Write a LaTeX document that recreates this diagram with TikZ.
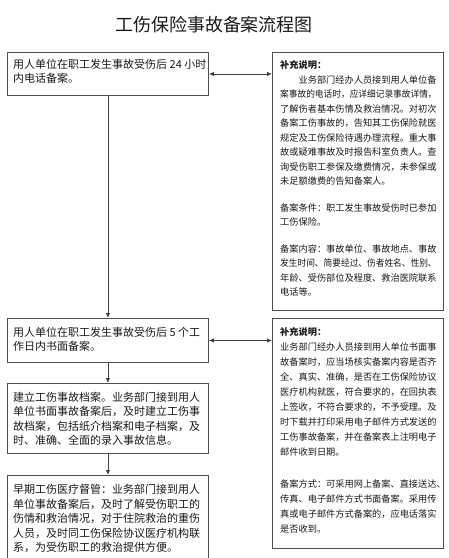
\documentclass[tikz,border=0pt]{standalone}
\usepackage{fontspec}
\usepackage{graphicx}
\setmainfont{Noto Sans CJK SC}
\usetikzlibrary{arrows.meta}
\definecolor{boxc}{HTML}{505050}
\definecolor{linec}{HTML}{404040}
\definecolor{textc}{HTML}{1A1A1A}
\newcommand{\sqz}[1]{\scalebox{0.945}[1]{#1}}
\tikzset{
  box/.style={draw=boxc, line width=0.9pt, fill=white, anchor=north west, inner sep=0pt},
  ltxt/.style={anchor=north west, inner sep=0pt, align=left, text=textc, font=\fontsize{11}{14.5}\selectfont},
  rtxt/.style={anchor=north west, inner sep=0pt, align=left, text=textc, font=\fontsize{9.2}{14.5}\selectfont},
  rtxtb/.style={anchor=north west, inner sep=0pt, align=left, text=textc, font=\fontsize{9.2}{15}\selectfont},
  conn/.style={draw=linec, line width=0.8pt, -{Latex[length=5pt,width=4.5pt]}},
  dconn/.style={draw=linec, line width=0.8pt, {Latex[length=5pt,width=4.5pt]}-{Latex[length=5pt,width=4.5pt]}}
}
\begin{document}
\begin{tikzpicture}[x=1pt,y=-1pt]
\useasboundingbox (0,0) rectangle (449,558);
\clip (0,0) rectangle (449,558);
\fill[white] (0,0) rectangle (449,558);

\node[anchor=center, inner sep=0pt, text=textc, font=\fontsize{18}{20}\selectfont] (title) at (214,25) {工伤保险事故备案流程图};

% left boxes
\node[box, minimum width=201pt, minimum height=43pt] (b1) at (7,52) {};
\node[box, minimum width=201pt, minimum height=44pt] (b2) at (7,318) {};
\node[box, minimum width=201pt, minimum height=70pt] (b3) at (7,383) {};
\node[box, minimum width=201pt, minimum height=100pt] (b4) at (7,475) {};

% right boxes
\node[box, minimum width=171pt, minimum height=258pt] (r1) at (272,52) {};
\node[box, minimum width=171pt, minimum height=230pt] (r2) at (272,318) {};

% left texts
\node[ltxt] (t1) at (13,58.5) {用人单位在职工发生事故受伤后 24 小时\\内电话备案。};
\node[ltxt] (t2) at (13,326.5) {用人单位在职工发生事故受伤后 5 个工\\作日内书面备案。};
\node[ltxt] (t3) at (13,391.5) {建立工伤事故档案。业务部门接到用人\\单位书面事故备案后，及时建立工伤事\\故档案，包括纸介档案和电子档案，及\\时、准确、全面的录入事故信息。};
\node[ltxt] (t4) at (13,484.5) {早期工伤医疗督管：业务部门接到用人\\单位事故备案后，及时了解受伤职工的\\伤情和救治情况，对于住院救治的重伤\\人员，及时同工伤保险协议医疗机构联\\系，为受伤职工的救治提供方便。};

% right texts
\node[rtxt] (s1) at (280,60.5) {\textbf{补充说明：}\\
\hspace*{18.4pt}业务部门经办人员接到用人单位备\\
\sqz{案事故的电话时，应详细记录事故详情，}\\
了解伤者基本伤情及救治情况。对初次\\
备案工伤事故的，告知其工伤保险就医\\
规定及工伤保险待遇办理流程。重大事\\
故或疑难事故及时报告科室负责人。查\\
询受伤职工参保及缴费情况，未参保或\\
未足额缴费的告知备案人。\\[12pt]
备案条件：职工发生事故受伤时已参加\\
工伤保险。\\[12pt]
备案内容：事故单位、事故地点、事故\\
\sqz{发生时间、简要经过、伤者姓名、性别、}\\
年龄、受伤部位及程度、救治医院联系\\
电话等。};

\node[rtxtb] (s2) at (280,327.5) {\textbf{补充说明：}\\
业务部门经办人员接到用人单位书面事\\
故备案时，应当场核实备案内容是否齐\\
全、真实、准确，是否在工伤保险协议\\
医疗机构就医，符合要求的，在回执表\\
上签收，不符合要求的，不予受理。及\\
时下载并打印采用电子邮件方式发送的\\
工伤事故备案，并在备案表上注明电子\\
邮件收到日期。\\[17pt]
备案方式：可采用网上备案、直接送达、\\
传真、电子邮件方式书面备案。采用传\\
真或电子邮件方式备案的，应电话落实\\
是否收到。};

% connectors
\draw[conn] (b1.south) -- (b2.north);
\draw[conn] (b2.south) -- (b3.north);
\draw[conn] (b3.south) -- (b4.north);
\draw[dconn] (b1.east) -- (b1.east -| r1.west);
\draw[dconn] (b2.east) -- (b2.east -| r2.west);
\end{tikzpicture}
\end{document}
